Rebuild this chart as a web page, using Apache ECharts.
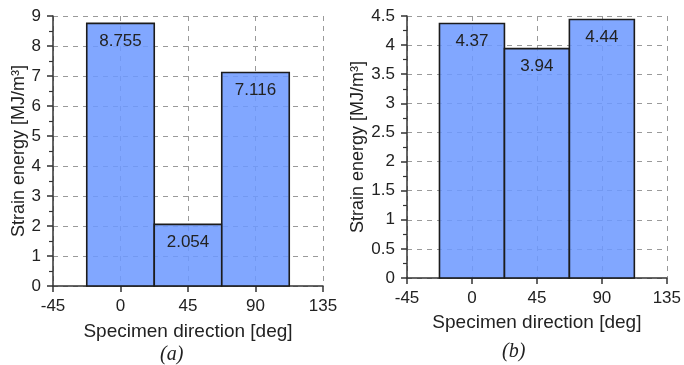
<!DOCTYPE html>
<html>
<head>
<meta charset="utf-8">
<script src="https://cdn.jsdelivr.net/npm/echarts@6/dist/echarts.min.js"></script>
<style>
  html, body { margin: 0; padding: 0; background: #fff; }
  #chart { width: 684px; height: 365px; }
</style>
</head>
<body>
<div id="chart"></div>
<script>
// specimen directions (deg) and strain energy (MJ/m3)
const directions = [0, 45, 90]
const energyA = [8.755, 2.054, 7.116]
const energyB = [4.37, 3.94, 4.44]
const binWidth = 45
const captions = ['(a)', '(b)']

const FONT = '"Liberation Sans", Arial, sans-serif'
const TXT = '#222'

const chart = echarts.init(document.getElementById('chart'), null, { renderer: 'canvas' })

// draw each bin as a rectangle spanning dir +- binWidth/2
const renderBin = (params, api) => {
  const x = api.value(0)
  const y = api.value(1)
  const p0 = api.coord([x - binWidth / 2, y])
  const p1 = api.coord([x + binWidth / 2, 0])
  return {
    type: 'rect',
    shape: { x: p0[0], y: p0[1], width: p1[0] - p0[0], height: p1[1] - p0[1] },
    style: { fill: 'rgba(108,152,255,0.86)', stroke: '#1c1c1c', lineWidth: 1.6 },
    textContent: {
      style: { text: String(y), fill: TXT, font: '17px ' + FONT }
    },
    textConfig: { position: 'insideTop', distance: 10 }
  }
}

const xAxisCfg = (gridIndex, gap) => ({
  gridIndex,
  type: 'value',
  min: -45,
  max: 135,
  interval: 45,
  name: 'Specimen direction [deg]',
  nameLocation: 'middle',
  nameGap: gap,
  nameTextStyle: { color: TXT, fontSize: 19, fontFamily: FONT },
  axisLine: { show: true, onZero: false, lineStyle: { color: '#333', width: 1.5 } },
  axisTick: { show: true, length: 6, lineStyle: { color: '#333', width: 1.5 } },
  axisLabel: { color: TXT, fontSize: 17, fontFamily: FONT, margin: 12 },
  splitLine: { show: true, lineStyle: { color: '#9a9a9a', type: [5, 5], width: 1 } }
})

const yAxisCfg = (gridIndex, max, interval, gap) => ({
  gridIndex,
  type: 'value',
  min: 0,
  max,
  interval,
  name: 'Strain energy [MJ/m³]',
  nameLocation: 'middle',
  nameGap: gap,
  nameTextStyle: { color: TXT, fontSize: 18, fontFamily: FONT },
  axisLine: { show: true, onZero: false, lineStyle: { color: '#333', width: 1.5 } },
  axisTick: { show: true, length: 6, lineStyle: { color: '#333', width: 1.5 } },
  minorTick: { show: true, splitNumber: 2, length: 4, lineStyle: { color: '#333', width: 1.2 } },
  axisLabel: { color: TXT, fontSize: 17, fontFamily: FONT, margin: 12 },
  splitLine: { show: true, lineStyle: { color: '#9a9a9a', type: [5, 5], width: 1 } }
})

const option = {
  animation: false,
  grid: [
    { left: 53, top: 16, width: 270, height: 270 },
    { left: 407, top: 16, width: 261, height: 262 }
  ],
  xAxis: [xAxisCfg(0, 36), xAxisCfg(1, 35)],
  yAxis: [yAxisCfg(0, 9, 1, 24), yAxisCfg(1, 4.5, 0.5, 38)],
  series: [
    {
      type: 'custom',
      xAxisIndex: 0,
      yAxisIndex: 0,
      renderItem: renderBin,
      data: directions.map((d, i) => [d, energyA[i]])
    },
    {
      type: 'custom',
      xAxisIndex: 1,
      yAxisIndex: 1,
      renderItem: renderBin,
      data: directions.map((d, i) => [d, energyB[i]])
    }
  ],
  graphic: [
    {
      type: 'text', left: 160, top: 345,
      style: { text: captions[0], fill: TXT, font: 'italic 20px "Liberation Serif", serif' }
    },
    {
      type: 'text', left: 502, top: 342,
      style: { text: captions[1], fill: TXT, font: 'italic 20px "Liberation Serif", serif' }
    }
  ]
}

chart.setOption(option)
</script>
</body>
</html>
